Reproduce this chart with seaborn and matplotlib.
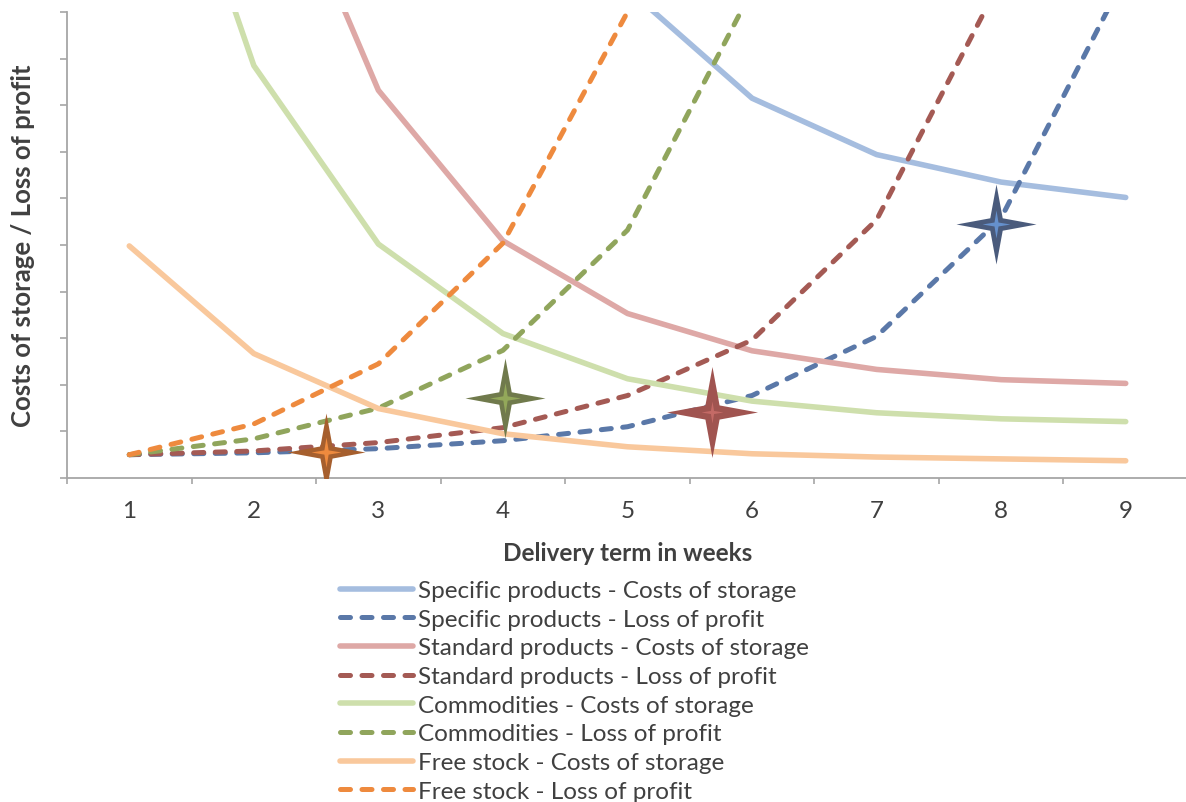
import numpy as np
import pandas as pd
import matplotlib
matplotlib.use("Agg")
import matplotlib.pyplot as plt
from matplotlib.path import Path
import seaborn as sns

# ---- data -------------------------------------------------------------
weeks = [1, 2, 3, 4, 5, 6, 7, 8, 9]
nan = np.nan

specific_storage = [nan, nan, nan, nan, 10.5, 8.15, 6.94, 6.35, 6.02]
specific_loss = [0.5, 0.54, 0.63, 0.80, 1.10, 1.77, 3.04, 5.58, 10.8]
standard_storage = [nan, 14.6, 8.32, 5.09, 3.53, 2.73, 2.33, 2.11, 2.03]
standard_loss = [0.5, 0.58, 0.76, 1.08, 1.77, 2.96, 5.54, 10.7, nan]
commodities_storage = [16.6, 8.85, 5.02, 3.10, 2.13, 1.65, 1.40, 1.27, 1.21]
commodities_loss = [0.5, 0.84, 1.50, 2.74, 5.32, 10.47, nan, nan, nan]
freestock_storage = [4.98, 2.67, 1.49, 0.95, 0.67, 0.52, 0.45, 0.41, 0.37]
freestock_loss = [0.5, 1.16, 2.45, 5.04, 10.0, nan, nan, nan, nan]

series_labels = [
    "Specific products - Costs of storage",
    "Specific products - Loss of profit",
    "Standard products - Costs of storage",
    "Standard products - Loss of profit",
    "Commodities - Costs of storage",
    "Commodities - Loss of profit",
    "Free stock - Costs of storage",
    "Free stock - Loss of profit",
]
series_values = [
    specific_storage, specific_loss,
    standard_storage, standard_loss,
    commodities_storage, commodities_loss,
    freestock_storage, freestock_loss,
]
series_colors = [
    "#A5BDDF", "#5A78A8",
    "#DEA8A6", "#A45A54",
    "#CEDFAC", "#90A55C",
    "#F9C89C", "#EE8A3E",
]

# optimum points (intersection of storage cost and lost profit)
optimum_x = [2.58, 4.02, 5.68, 7.96]
optimum_y = [0.56, 1.72, 1.42, 5.45]
optimum_outer = ["#A65F2E", "#707A4C", "#A05450", "#4A5B7C"]
optimum_inner = ["#EE8A3E", "#93A85A", "#C46A66", "#6590CC"]
optimum_size = [78, 80, 91, 80]
optimum_inner_size = [30, 31, 22, 28]

# ---- style ------------------------------------------------------------
sns.set_theme(style="white")
plt.rcParams["font.family"] = ["Lato", "DejaVu Sans"]
text_color = "#404040"
axis_color = "#A6A6A6"

fig = plt.figure(figsize=(11.86, 8.03), dpi=100)
W, H = 1186, 803
ax_left, ax_right, ax_top, ax_bottom = 67, 1188, 13, 479
ax = fig.add_axes([ax_left / W, (H - ax_bottom) / H,
                   (ax_right - ax_left) / W, (ax_bottom - ax_top) / H])

for label, vals, col in zip(series_labels, series_values, series_colors):
    df = pd.DataFrame({"week": weeks, "value": vals})
    dashed = "Loss" in label
    if dashed:
        sns.lineplot(data=df, x="week", y="value", ax=ax, color=col,
                     linewidth=3.6, linestyle=(0, (2.0, 2.3)),
                     dash_capstyle="round", label=label)
    else:
        sns.lineplot(data=df, x="week", y="value", ax=ax, color=col,
                     linewidth=4.0, solid_capstyle="round", label=label)


def star_path(inner_ratio):
    verts = []
    for k in range(8):
        ang = np.pi / 2 + k * np.pi / 4
        r = 1.0 if k % 2 == 0 else inner_ratio
        verts.append((r * np.cos(ang), r * np.sin(ang)))
    verts.append(verts[0])
    codes = [Path.MOVETO] + [Path.LINETO] * 7 + [Path.CLOSEPOLY]
    return Path(verts, codes)


outer_star = star_path(0.22)
inner_star = star_path(0.2)
px_to_pt = 72 / 100
for xs, ys, oc, ic, so, si in zip(optimum_x, optimum_y, optimum_outer,
                                  optimum_inner, optimum_size,
                                  optimum_inner_size):
    sns.scatterplot(x=[xs], y=[ys], ax=ax, marker=outer_star,
                    s=(so * px_to_pt) ** 2, color=oc, linewidth=0,
                    zorder=5, legend=False)
    sns.scatterplot(x=[xs], y=[ys], ax=ax, marker=inner_star,
                    s=(si * px_to_pt) ** 2, color=ic, linewidth=0,
                    zorder=6, legend=False)

ax.set_xlim(0.5, 9.5)
ax.set_ylim(0, 10)

# axes / spines
for side in ["top", "right"]:
    ax.spines[side].set_visible(False)
for side in ["left", "bottom"]:
    ax.spines[side].set_color(axis_color)
    ax.spines[side].set_linewidth(1.3)

ax.set_yticks(np.arange(0, 11, 1))
ax.set_yticklabels([])
ax.tick_params(axis="y", which="major", direction="out", length=5,
               width=1.2, color=axis_color, left=True)

ax.set_xticks(weeks)
ax.set_xticklabels([str(w) for w in weeks])
ax.set_xticks(np.arange(0.5, 10, 1), minor=True)
ax.tick_params(axis="x", which="major", length=0, pad=16,
               labelsize=17.5, labelcolor=text_color)
ax.tick_params(axis="x", which="minor", direction="out", length=4.5,
               width=1.2, color=axis_color, bottom=True)

ax.set_xlabel("Delivery term in weeks", fontsize=17.5, fontweight="bold",
              color=text_color)
ax.xaxis.set_label_coords(0.5, -0.159)
ax.xaxis.label.set_va("center")
ax.set_ylabel("Costs of storage / Loss of profit", fontsize=18.5,
              fontweight="bold", color=text_color)
ax.yaxis.set_label_coords(-0.039, 0.50)
ax.yaxis.label.set_va("center")

ax.grid(False)

handles, labels = ax.get_legend_handles_labels()
if ax.get_legend() is not None:
    ax.get_legend().remove()
fig.legend(handles, labels, loc="upper left",
           bbox_to_anchor=(340 / W, 1 - 581 / H), frameon=False,
           fontsize=17.5, labelcolor=text_color, handlelength=3.0,
           handletextpad=0.22, labelspacing=0.315, borderpad=0,
           borderaxespad=0)

fig.savefig("out.png", dpi=100)
